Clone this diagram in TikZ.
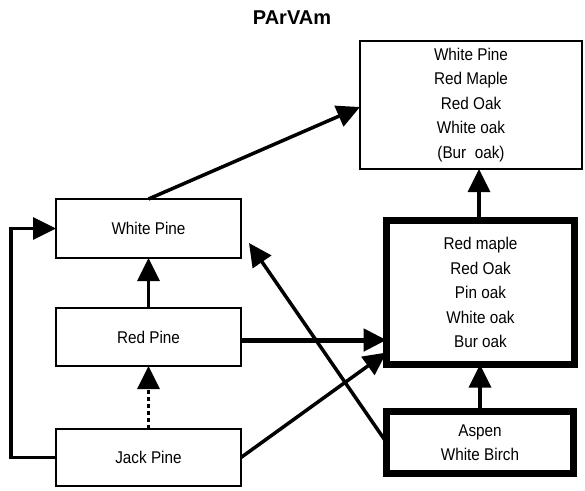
\documentclass[tikz,border=0pt]{standalone}
\usepackage{fontspec}
\setmainfont{Liberation Sans}
\newfontfamily\boxfont[FakeStretch=0.9]{Liberation Sans}
\usetikzlibrary{arrows.meta}
\begin{document}
\begin{tikzpicture}[x=1pt,y=-1pt,
  every node/.style={inner sep=0pt, outer sep=0pt},
  thinbox/.style={draw, line width=2pt, align=center,
    font=\boxfont\fontsize{17}{24.5}\selectfont},
  thickbox/.style={draw, line width=7pt, align=center,
    font=\boxfont\fontsize{17}{24.5}\selectfont},
  conn/.style={line width=3.5pt, -{Triangle[length=23pt,width=22pt]}},
  heavyconn/.style={conn, line width=5pt},
  dotconn/.style={conn, dash pattern=on 4pt off 3pt}
]
\useasboundingbox (0,0) rectangle (585,490);

% title
\node[font=\bfseries\fontsize{20}{22}\selectfont] (title) at (292,18) {PArVAm};

% left column
\node[thinbox, minimum width=185pt, minimum height=59pt] (wp) at (148.5,228.5) {White Pine};
\node[thinbox, minimum width=185pt, minimum height=58pt] (rp) at (148.5,337) {Red Pine};
\node[thinbox, minimum width=185pt, minimum height=57pt] (jp) at (148.5,457.5) {Jack Pine};

% right column
\node[thinbox, minimum width=222pt, minimum height=128pt] (top) at (471,105)
  {White Pine\\Red Maple\\Red Oak\\White oak\\(Bur\ \ oak)};
\node[thickbox, minimum width=188pt, minimum height=144pt] (mid) at (480.5,292.5)
  {Red maple\\Red Oak\\Pin oak\\White oak\\Bur oak};
\node[thickbox, minimum width=187pt, minimum height=62pt] (asp) at (480,442.5)
  {Aspen\\White Birch};

% connectors
\draw[conn] (wp.north) -- ([yshift=-2pt]top.west);
\draw[conn] (rp.north) -- (wp.south);
\draw[dotconn] (jp.north) -- (rp.south);
\draw[conn] (jp.west) -- ++(-45,0) |- (wp.west);
\draw[heavyconn] ([yshift=-3pt]rp.east) -- ([yshift=-3pt]rp.east -| mid.west);
\draw[conn] (jp.east) -- ([yshift=-60pt]mid.west);
\draw[conn] (asp.west) -- ([xshift=8pt,yshift=-14.5pt]wp.east);
\draw[conn] ([xshift=-1.5pt]mid.north) -- ([xshift=-1.5pt]mid.north |- top.south);
\draw[conn] (asp.north) -- (asp.north |- mid.south);
\end{tikzpicture}
\end{document}
